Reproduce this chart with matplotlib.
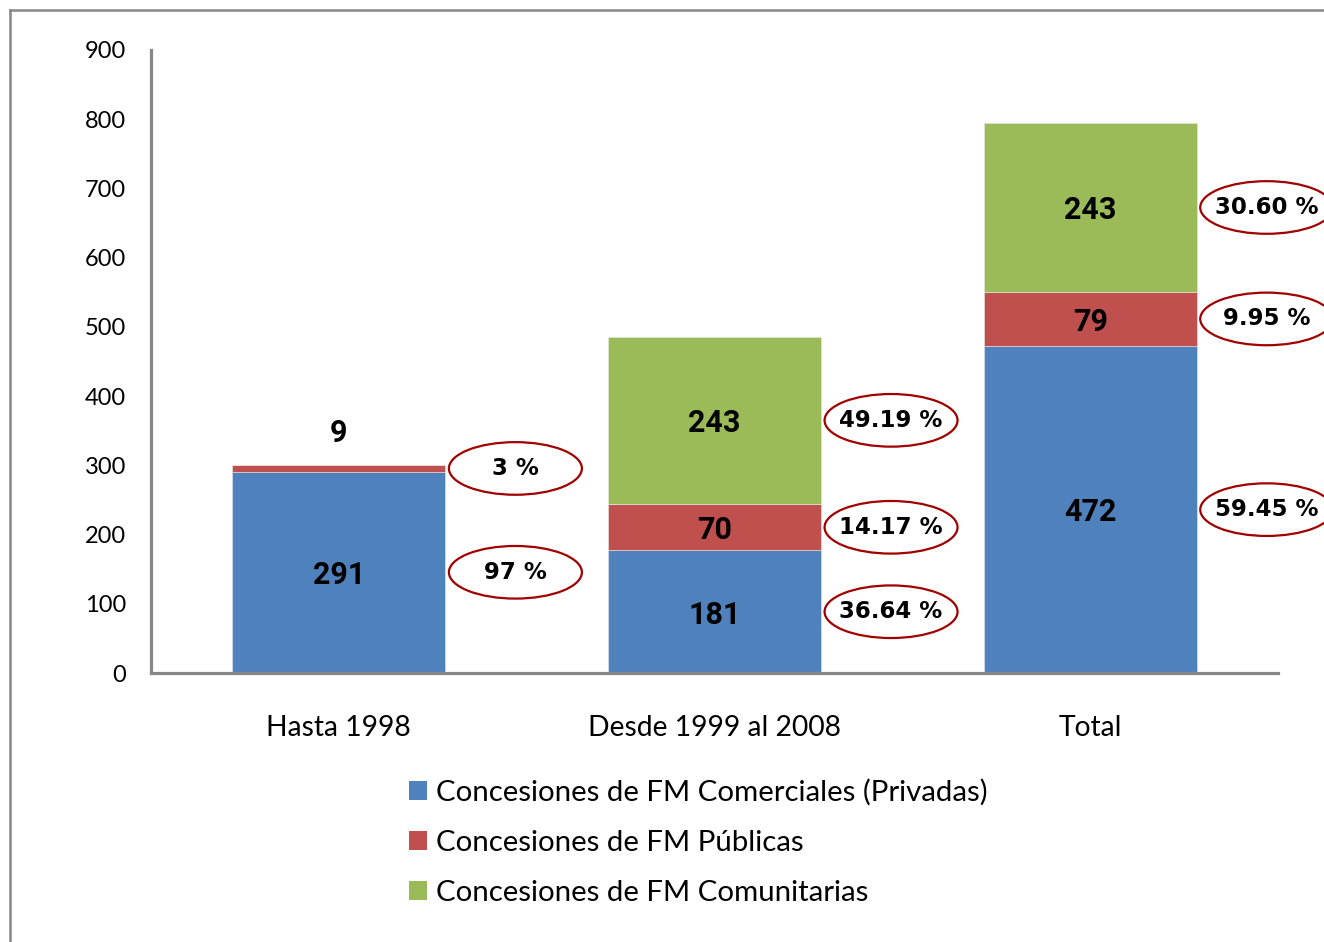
import matplotlib
matplotlib.use("Agg")
import matplotlib.pyplot as plt
from matplotlib.patches import Ellipse, Patch
from matplotlib.lines import Line2D
import numpy as np

# ===== Data =====
categories = ["Hasta 1998", "Desde 1999 al 2008", "Total"]
series_names = [
    "Concesiones de FM Comerciales (Privadas)",
    "Concesiones de FM Públicas",
    "Concesiones de FM Comunitarias",
]
# bar heights as drawn in the picture
privadas = [291, 177, 472]
publicas = [9, 67, 79]
comunitarias = [0, 242, 243]
# text written on the bars
privadas_labels = ["291", "181", "472"]
publicas_labels = ["9", "70", "79"]
comunitarias_labels = ["", "243", "243"]
# percentages in the ellipses
privadas_pct = ["97 %", "36.64 %", "59.45 %"]
publicas_pct = ["3 %", "14.17 %", "9.95 %"]
comunitarias_pct = ["", "49.19 %", "30.60 %"]

# ===== Style =====
COLORS = ["#4F81BD", "#C0504D", "#9BBB59"]
GRAY = "#878787"
RING = "#A00000"
FONT = "Lato"
BOLD_FONT = "Roboto"
BAR_WIDTH = 0.567

fig = plt.figure(figsize=(13.24, 9.42), dpi=100)
ax = fig.add_axes([151 / 1324, 1 - 673 / 942, 1127 / 1324, 623 / 942])

x = np.arange(len(categories))
series = [privadas, publicas, comunitarias]
labels = [privadas_labels, publicas_labels, comunitarias_labels]
pcts = [privadas_pct, publicas_pct, comunitarias_pct]

bottom = np.zeros(len(categories))
for vals, color, name, labs, pc in zip(series, COLORS, series_names, labels, pcts):
    vals = np.array(vals, dtype=float)
    ax.bar(x, vals, BAR_WIDTH, bottom=bottom, color=color, label=name,
           edgecolor="#e8e8e8", linewidth=0.4)
    for i in range(len(categories)):
        if vals[i] <= 0:
            continue
        mid = bottom[i] + vals[i] / 2
        if vals[i] < 30:
            ty = bottom[i] + vals[i] + 46
        else:
            ty = mid - 4
        ax.text(x[i], ty, labs[i], ha="center", va="center", fontsize=22,
                fontweight="bold", family=BOLD_FONT, color="black")
        if pc[i]:
            cx = x[i] + 0.47
            ax.add_patch(Ellipse((cx, mid), 0.354, 76, facecolor="white",
                                 edgecolor=RING, linewidth=1.6, clip_on=False,
                                 zorder=3))
            ax.text(cx, mid, pc[i], ha="center", va="center", fontsize=16.5,
                    fontweight="bold", family="DejaVu Sans", color="black",
                    zorder=4, clip_on=False)
    bottom += vals

ax.set_xlim(-0.5, 2.5)
ax.set_ylim(0, 900)
ax.set_yticks(range(0, 901, 100))
ax.set_xticks(x)
ax.set_xticklabels(categories, family=FONT, fontsize=20.3)
for lab in ax.get_yticklabels():
    lab.set_family(FONT)
    lab.set_fontsize(17)
ax.tick_params(axis="y", length=0, pad=18)
ax.tick_params(axis="x", length=0, pad=30)

for side in ["top", "right"]:
    ax.spines[side].set_visible(False)
for side in ["left", "bottom"]:
    ax.spines[side].set_color(GRAY)
    ax.spines[side].set_linewidth(2.3)

# legend
handles = [Patch(facecolor=c, edgecolor="none") for c in COLORS]
fig.legend(handles, series_names, loc="upper left",
           bbox_to_anchor=(409 / 1324, 1 - 779 / 942), frameon=False,
           prop={"family": FONT, "size": 21.2}, handlelength=0.62,
           handleheight=0.62, handletextpad=0.3, labelspacing=0.82,
           borderpad=0, borderaxespad=0)

# outer frame (cut off on the right and bottom)
fig.add_artist(Line2D([10 / 1324, 10 / 1324], [0, 1 - 10 / 942],
                      transform=fig.transFigure, color=GRAY, linewidth=1.8))
fig.add_artist(Line2D([10 / 1324, 1], [1 - 10 / 942, 1 - 10 / 942],
                      transform=fig.transFigure, color=GRAY, linewidth=1.8))

fig.savefig("out.png", dpi=100)
